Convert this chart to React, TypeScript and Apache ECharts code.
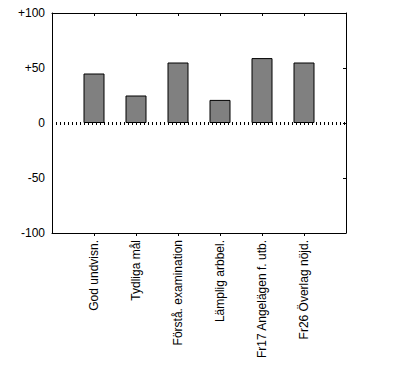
import React, { useEffect, useRef } from "react";
import * as echarts from "echarts";

const categories = [
  "",
  "God undvisn.",
  "Tydliga mål",
  "Förstå. examination",
  "Lämplig arbbel.",
  "Fr17 Angelägen f. utb.",
  "Fr26 Överlag nöjd.",
  "",
];
const values: (number | string)[] = ["-", 45, 25, 55, 21, 59, 55, "-"];
const yTicks = { min: -100, max: 100, interval: 50 };

export default function App() {
  const ref = useRef<HTMLDivElement>(null);
  useEffect(() => {
    if (!ref.current) return;
    const chart = echarts.init(ref.current, null, { renderer: "svg" });
    const font = "Liberation Sans, Arial, sans-serif";
    const hideEnds = (i: number) => i > 0 && i < categories.length - 1;
    chart.setOption({
      animation: false,
      backgroundColor: "#ffffff",
      grid: { left: 52, top: 13, width: 294, height: 220, containLabel: false },
      xAxis: [
        {
          type: "category",
          data: categories,
          boundaryGap: false,
          position: "bottom",
          axisLine: { show: true, onZero: false, lineStyle: { color: "#000", width: 1 } },
          axisTick: { show: true, inside: false, length: 3, interval: hideEnds, lineStyle: { color: "#000" } },
          axisLabel: {
            rotate: 90,
            margin: 7,
            color: "#000",
            fontSize: 12,
            fontFamily: font,
            interval: 0,
          },
          splitLine: { show: false },
        },
        {
          type: "category",
          data: categories,
          boundaryGap: false,
          position: "top",
          axisLine: { show: true, onZero: false, lineStyle: { color: "#000", width: 1 } },
          axisTick: { show: true, inside: true, length: 3, interval: hideEnds, lineStyle: { color: "#000" } },
          axisLabel: { show: false },
          splitLine: { show: false },
        },
      ],
      yAxis: [
        {
          type: "value",
          position: "left",
          min: yTicks.min,
          max: yTicks.max,
          interval: yTicks.interval,
          axisLine: { show: true, onZero: false, lineStyle: { color: "#000", width: 1 } },
          axisTick: { show: false },
          axisLabel: {
            margin: 7,
            color: "#000",
            fontSize: 12,
            fontFamily: font,
            formatter: (v: number) => (v > 0 ? "+" + v : String(v)),
          },
          splitLine: { show: false },
        },
        {
          type: "value",
          position: "right",
          min: yTicks.min,
          max: yTicks.max,
          interval: yTicks.interval,
          axisLine: { show: true, onZero: false, lineStyle: { color: "#000", width: 1 } },
          axisTick: { show: true, inside: true, length: 3, lineStyle: { color: "#000" } },
          axisLabel: { show: false },
          splitLine: { show: false },
        },
      ],
      series: [
        {
          type: "bar",
          data: values,
          barWidth: 21,
          itemStyle: { color: "#808080", borderColor: "#000", borderWidth: 1 },
          markLine: {
            silent: true,
            symbol: "none",
            label: { show: false },
            lineStyle: { color: "#000", width: 3, type: [1, 3] },
            data: [{ yAxis: 0 }],
          },
          z: 1,
        },
      ],
    });
    return () => chart.dispose();
  }, []);
  return (
    <div
      ref={ref}
      style={{ position: "absolute", left: 0, top: 0, width: 395, height: 366 }}
    />
  );
}
